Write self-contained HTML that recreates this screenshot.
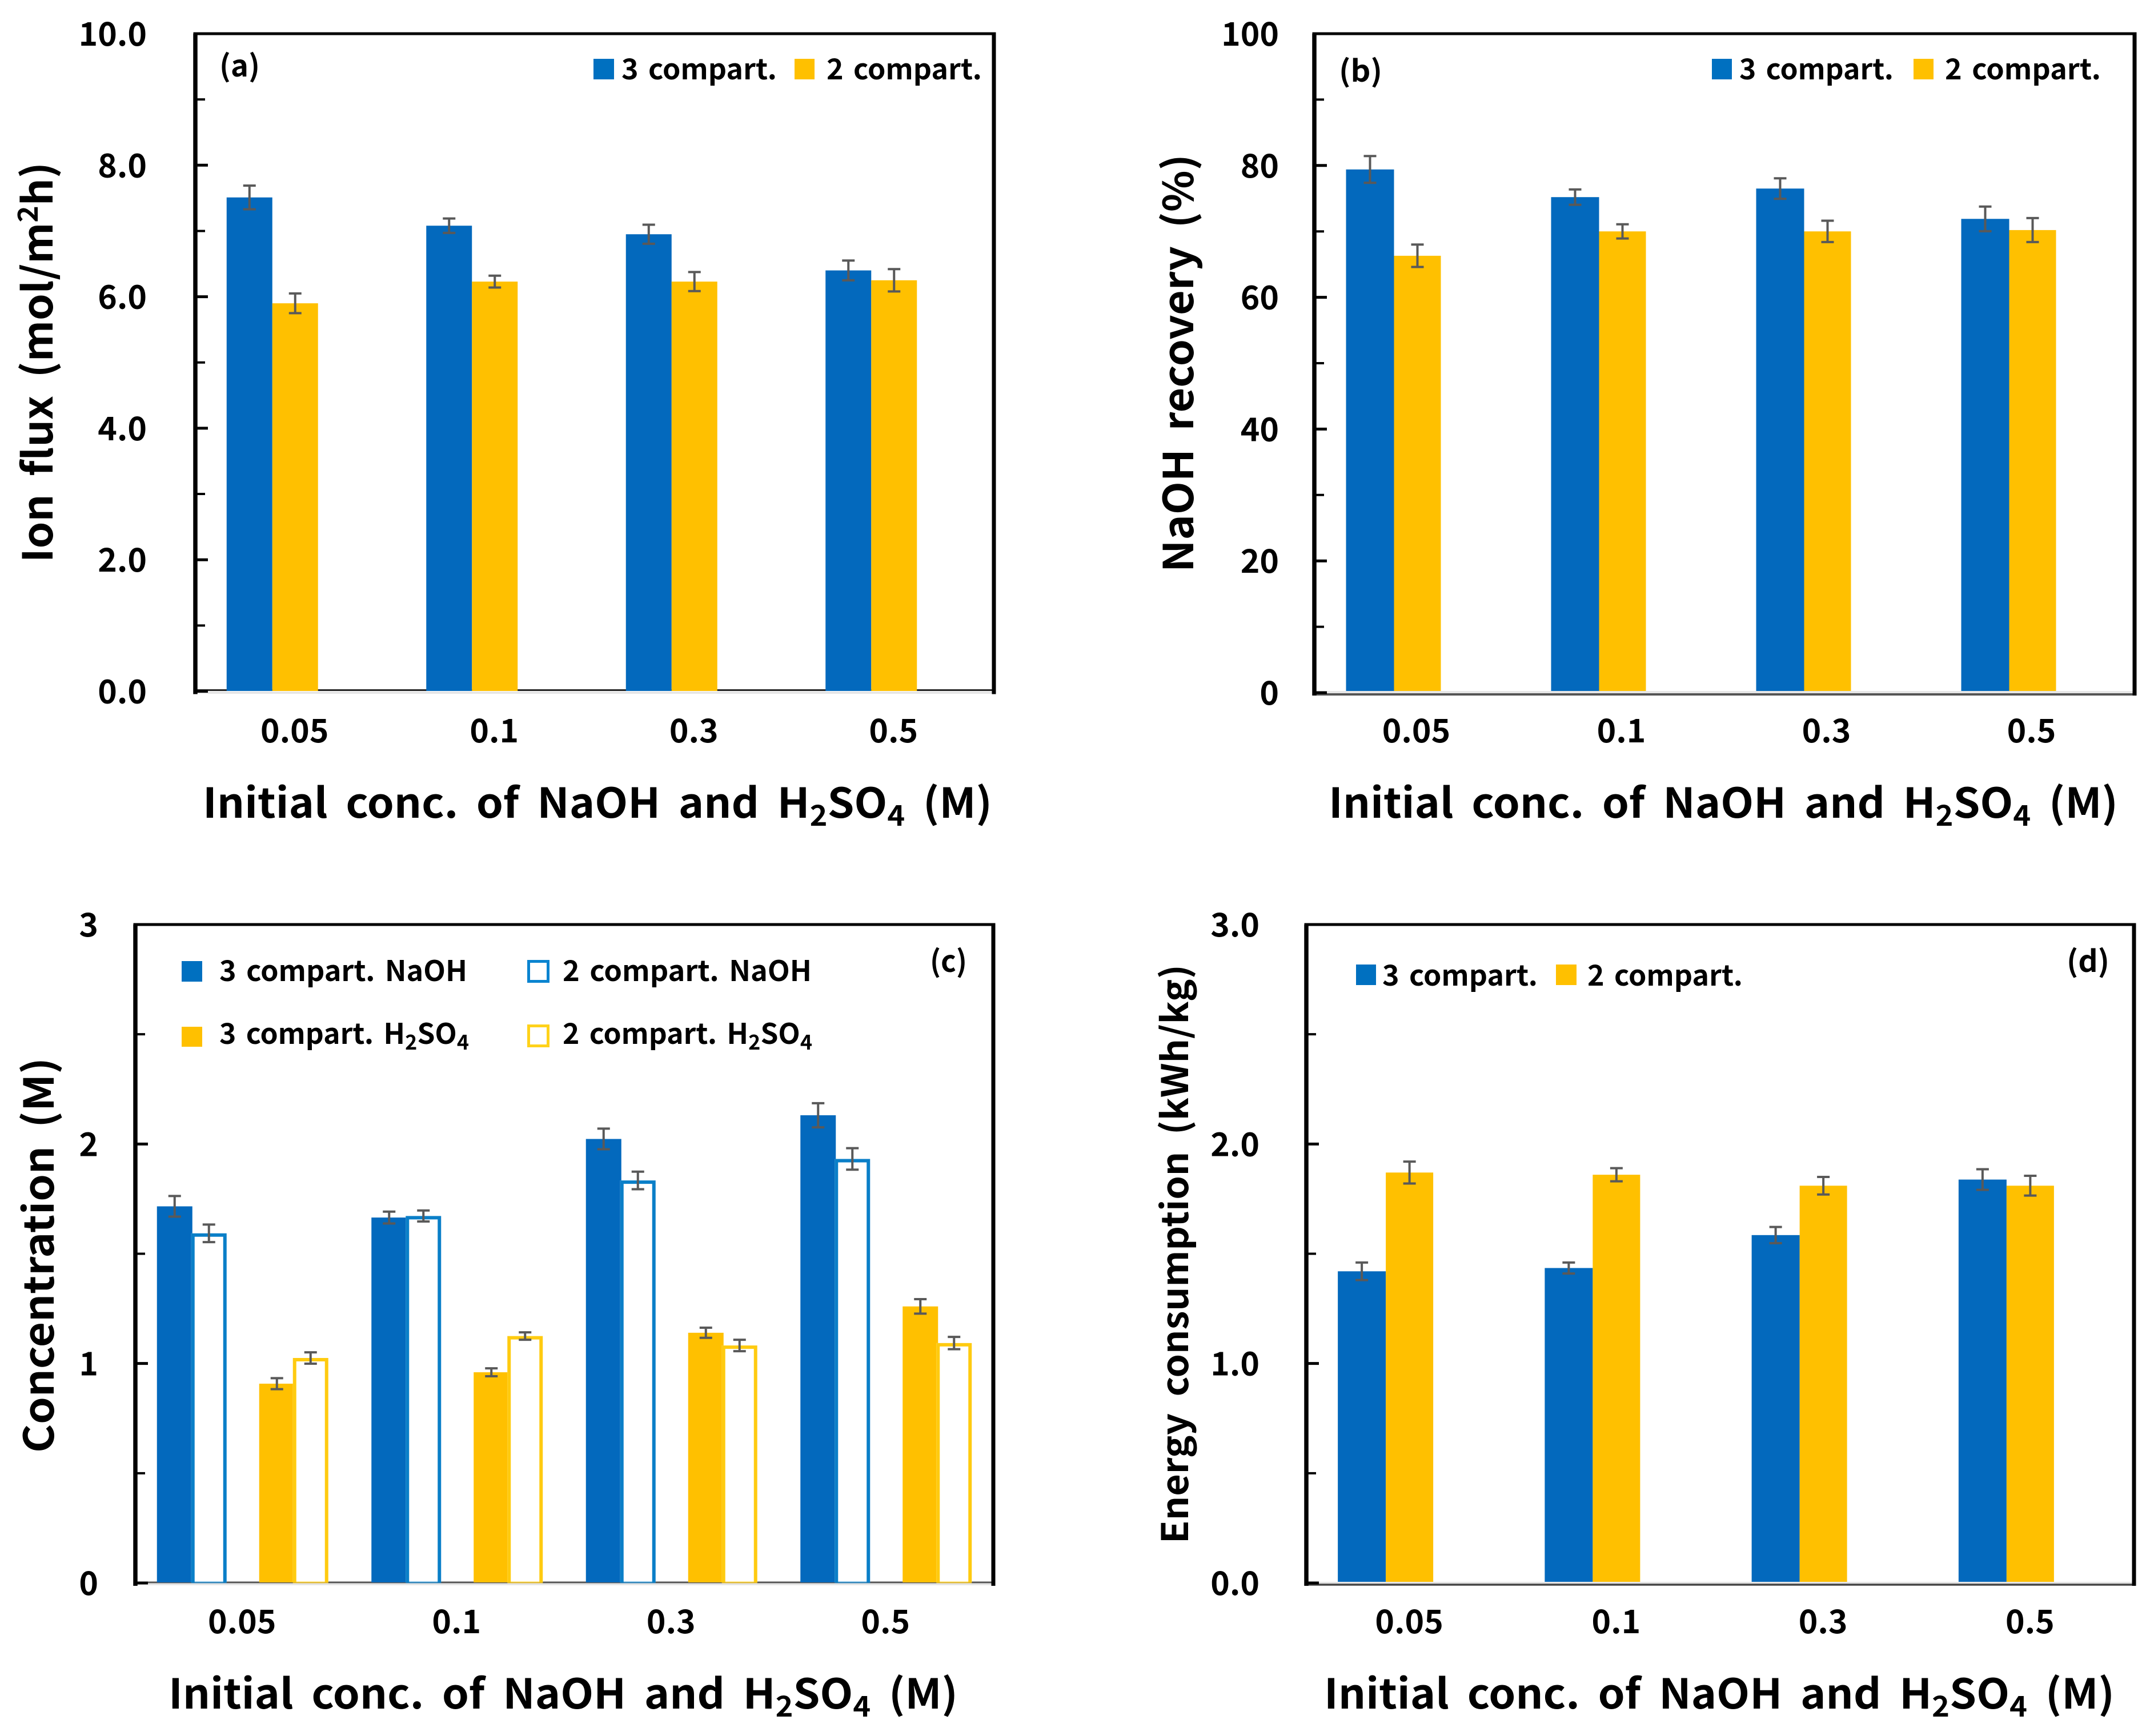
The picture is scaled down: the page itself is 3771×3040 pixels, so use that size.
<!DOCTYPE html>
<html lang="en">
<head>
<meta charset="utf-8">
<title>Ion flux, NaOH recovery, concentration and energy consumption</title>
<style>
  html, body { margin: 0; padding: 0; background: #fff; }
  svg { display: block; }
  text { font-family: "Noto Sans CJK KR", "Liberation Sans", sans-serif; font-weight: 700; fill: #000; }
  .tick { font-size: 57px; }
  .axis-title { font-size: 72px; word-spacing: 14px; }
  .legend { font-size: 50px; word-spacing: 6px; }
  .panel-label { font-size: 52px; font-weight: 700; }
</style>
</head>
<body>
<svg id="figure" xmlns="http://www.w3.org/2000/svg" width="3771" height="3040" viewBox="0 0 3771 3040">
  <rect x="0" y="0" width="3771" height="3040" fill="#ffffff"/>

  <g id="panel-a">
    <g id="panel-a-marks"></g>
    <text class="panel-label" x="384" y="134" textLength="71" lengthAdjust="spacingAndGlyphs">(a)</text>
    <rect x="1039" y="103" width="36" height="36" fill="#0070c0"/>
    <text class="legend" x="1088" y="139" textLength="272" lengthAdjust="spacingAndGlyphs">3 compart.</text>
    <rect x="1391" y="103" width="35" height="36" fill="#ffc000"/>
    <text class="legend" x="1447" y="139" textLength="272" lengthAdjust="spacingAndGlyphs">2 compart.</text>
    <text class="axis-title" x="355" y="1432" textLength="1382" lengthAdjust="spacingAndGlyphs">Initial conc. of NaOH and H<tspan font-size="50" dy="14">2</tspan><tspan dy="-14">SO</tspan><tspan font-size="50" dy="14">4</tspan><tspan dy="-14"> (M)</tspan></text>
    <text class="axis-title" transform="translate(92,985) rotate(-90)" x="0" y="0" textLength="701" lengthAdjust="spacingAndGlyphs">Ion flux (mol/m<tspan font-size="48" dy="-26">2</tspan><tspan dy="26">h)</tspan></text>
  </g>

  <g id="panel-b">
    <g id="panel-b-marks"></g>
    <text class="panel-label" x="2344" y="143" textLength="76" lengthAdjust="spacingAndGlyphs">(b)</text>
    <rect x="2997" y="103" width="35" height="36" fill="#0070c0"/>
    <text class="legend" x="3045" y="139" textLength="270" lengthAdjust="spacingAndGlyphs">3 compart.</text>
    <rect x="3350" y="103" width="35" height="36" fill="#ffc000"/>
    <text class="legend" x="3405" y="139" textLength="273" lengthAdjust="spacingAndGlyphs">2 compart.</text>
    <text class="axis-title" x="2326" y="1432" textLength="1382" lengthAdjust="spacingAndGlyphs">Initial conc. of NaOH and H<tspan font-size="50" dy="14">2</tspan><tspan dy="-14">SO</tspan><tspan font-size="50" dy="14">4</tspan><tspan dy="-14"> (M)</tspan></text>
    <text class="axis-title" transform="translate(2089,1002) rotate(-90)" x="0" y="0" textLength="732" lengthAdjust="spacingAndGlyphs">NaOH recovery (%)</text>
  </g>

  <g id="panel-c">
    <g id="panel-c-marks"></g>
    <text class="panel-label" x="1628" y="1702" textLength="65" lengthAdjust="spacingAndGlyphs">(c)</text>
    <rect x="318" y="1683" width="36" height="36" fill="#0070c0"/>
    <text class="legend" x="384" y="1718" textLength="434" lengthAdjust="spacingAndGlyphs">3 compart. NaOH</text>
    <rect x="925.5" y="1683.5" width="34" height="35" fill="#ffffff" stroke="#0a84d0" stroke-width="5"/>
    <text class="legend" x="985" y="1718" textLength="436" lengthAdjust="spacingAndGlyphs">2 compart. NaOH</text>
    <rect x="318" y="1798" width="36" height="35" fill="#ffc000"/>
    <text class="legend" x="384" y="1828" textLength="437" lengthAdjust="spacingAndGlyphs">3 compart. H<tspan font-size="36" dy="10">2</tspan><tspan dy="-10">SO</tspan><tspan font-size="36" dy="10">4</tspan></text>
    <rect x="925.5" y="1796.5" width="34" height="35" fill="#ffffff" stroke="#ffd21a" stroke-width="5"/>
    <text class="legend" x="985" y="1828" textLength="437" lengthAdjust="spacingAndGlyphs">2 compart. H<tspan font-size="36" dy="10">2</tspan><tspan dy="-10">SO</tspan><tspan font-size="36" dy="10">4</tspan></text>
    <text class="axis-title" x="295" y="2992" textLength="1382" lengthAdjust="spacingAndGlyphs">Initial conc. of NaOH and H<tspan font-size="50" dy="14">2</tspan><tspan dy="-14">SO</tspan><tspan font-size="50" dy="14">4</tspan><tspan dy="-14"> (M)</tspan></text>
    <text class="axis-title" transform="translate(94,2544) rotate(-90)" x="0" y="0" textLength="692" lengthAdjust="spacingAndGlyphs">Concentration (M)</text>
  </g>

  <g id="panel-d">
    <g id="panel-d-marks"></g>
    <text class="panel-label" x="3618" y="1702" textLength="75" lengthAdjust="spacingAndGlyphs">(d)</text>
    <rect x="2374" y="1689" width="35" height="36" fill="#0070c0"/>
    <text class="legend" x="2420" y="1726" textLength="272" lengthAdjust="spacingAndGlyphs">3 compart.</text>
    <rect x="2724" y="1689" width="36" height="36" fill="#ffc000"/>
    <text class="legend" x="2779" y="1726" textLength="272" lengthAdjust="spacingAndGlyphs">2 compart.</text>
    <text class="axis-title" x="2318" y="2992" textLength="1384" lengthAdjust="spacingAndGlyphs">Initial conc. of NaOH and H<tspan font-size="50" dy="14">2</tspan><tspan dy="-14">SO</tspan><tspan font-size="50" dy="14">4</tspan><tspan dy="-14"> (M)</tspan></text>
    <text class="axis-title" style="font-size:64px" transform="translate(2080,2703) rotate(-90)" x="0" y="0" textLength="1014" lengthAdjust="spacingAndGlyphs">Energy consumption (kWh/kg)</text>
  </g>
</svg>

<script>
const categories = ['0.05', '0.1', '0.3', '0.5'];

const fluxTickLabels = ['0.0', '2.0', '4.0', '6.0', '8.0', '10.0'];
const fluxThree = [7.51, 7.08, 6.95, 6.40];
const fluxThreeErr = [0.18, 0.11, 0.145, 0.15];
const fluxTwo = [5.90, 6.23, 6.23, 6.25];
const fluxTwoErr = [0.15, 0.09, 0.145, 0.17];

const recoveryTickLabels = ['0', '20', '40', '60', '80', '100'];
const recoveryThree = [79.4, 75.2, 76.5, 71.9];
const recoveryThreeErr = [2.03, 1.16, 1.55, 1.87];
const recoveryTwo = [66.3, 70.0, 70.0, 70.2];
const recoveryTwoErr = [1.7, 1.08, 1.62, 1.82];

const concTickLabels = ['0', '1', '2', '3'];
const concThreeNaoh = [1.716, 1.665, 2.023, 2.131];
const concThreeNaohErr = [0.047, 0.027, 0.047, 0.055];
const concTwoNaoh = [1.593, 1.672, 1.834, 1.932];
const concTwoNaohErr = [0.04, 0.025, 0.04, 0.049];
const concThreeAcid = [0.908, 0.96, 1.14, 1.26];
const concThreeAcidErr = [0.025, 0.018, 0.023, 0.033];
const concTwoAcid = [1.025, 1.125, 1.082, 1.093];
const concTwoAcidErr = [0.026, 0.017, 0.026, 0.028];

const energyTickLabels = ['0.0', '1.0', '2.0', '3.0'];
const energyThree = [1.42, 1.435, 1.585, 1.838];
const energyThreeErr = [0.04, 0.025, 0.037, 0.047];
const energyTwo = [1.87, 1.86, 1.81, 1.81];
const energyTwoErr = [0.05, 0.03, 0.04, 0.045];

const BLUE = '#0369bd';
const ORANGE = '#ffc000';
const HOLLOW_BLUE = '#0a7fc8';
const HOLLOW_ORANGE = '#ffcb10';
const SVG_NS = 'http://www.w3.org/2000/svg';

const panels = [
  { marks: 'panel-a-marks', left: 342, right: 1740, top: 59, zero: 1210.5, base: 1210, ticks: fluxTickLabels, max: 10,
    tickRight: 257, tickBaseline: 1300, baseLine: { y: 1208.5, w: 3, color: '#222222' }, band: { y: 1211, h: 4 },
    series: [
      { key: '3-compart', values: fluxThree, errors: fluxThreeErr, color: BLUE, from: -120, to: -40 },
      { key: '2-compart', values: fluxTwo, errors: fluxTwoErr, color: ORANGE, from: -40, to: 40 }
    ] },
  { marks: 'panel-b-marks', left: 2301, right: 3737, top: 59, zero: 1213, base: 1210, ticks: recoveryTickLabels, max: 100,
    tickRight: 2239, tickBaseline: 1300, baseLine: { y: 1216, w: 4, color: '#555555' }, band: { y: 1210, h: 4 },
    series: [
      { key: '3-compart', values: recoveryThree, errors: recoveryThreeErr, color: BLUE, from: -124, to: -40 },
      { key: '2-compart', values: recoveryTwo, errors: recoveryTwoErr, color: ORANGE, from: -40, to: 42 }
    ] },
  { marks: 'panel-c-marks', left: 237, right: 1739, top: 1619, zero: 2772, base: 2771, ticks: concTickLabels, max: 3,
    tickRight: 172, tickBaseline: 2860, baseLine: { y: 2771, w: 3, color: '#555555' }, band: { y: 2773, h: 3 },
    series: [
      { key: '3-compart-naoh', values: concThreeNaoh, errors: concThreeNaohErr, color: BLUE, from: -150, to: -88 },
      { key: '2-compart-naoh', values: concTwoNaoh, errors: concTwoNaohErr, color: HOLLOW_BLUE, from: -90, to: -28, hollow: true },
      { key: '3-compart-h2so4', values: concThreeAcid, errors: concThreeAcidErr, color: ORANGE, from: 29, to: 91 },
      { key: '2-compart-h2so4', values: concTwoAcid, errors: concTwoAcidErr, color: HOLLOW_ORANGE, from: 88, to: 150, hollow: true }
    ] },
  { marks: 'panel-d-marks', left: 2287, right: 3736, top: 1619, zero: 2772, base: 2770, ticks: energyTickLabels, max: 3,
    tickRight: 2205, tickBaseline: 2860, baseLine: { y: 2775, w: 3.5, color: '#444444' }, band: { y: 2770, h: 3 },
    series: [
      { key: '3-compart', values: energyThree, errors: energyThreeErr, color: BLUE, from: -126, to: -42 },
      { key: '2-compart', values: energyTwo, errors: energyTwoErr, color: ORANGE, from: -42, to: 41 }
    ] }
];

function make(tag, parent, attrs, text) {
  const node = document.createElementNS(SVG_NS, tag);
  for (const k in attrs) node.setAttribute(k, attrs[k]);
  if (text !== undefined) node.textContent = text;
  parent.appendChild(node);
  return node;
}

function yScale(p, v) {
  return p.zero - (v / p.max) * (p.zero - p.top);
}

function xCenter(p, i) {
  return p.left + (i + 0.5) * (p.right - p.left) / categories.length;
}

function drawPlotBase(p, g) {
  const band = make('rect', g, { x: p.left, y: p.band.y, width: p.right - p.left, height: p.band.h, fill: '#e6e6e6' });
  
  
  const line = make('line', g, { x1: p.left, x2: p.right, y1: p.baseLine.y, y2: p.baseLine.y, stroke: p.baseLine.color, 'stroke-width': p.baseLine.w });
  
  
}

function drawSeries(p, g) {
  p.series.forEach(function (s) {
    s.values.forEach(function (v, i) {
      const c = xCenter(p, i);
      const x0 = c + s.from;
      const x1 = c + s.to;
      const y = yScale(p, v);
      if (s.hollow) {
        const fillRect = make('rect', g, { x: x0, y: y, width: x1 - x0, height: p.base - y, fill: '#ffffff' });
        
        
        const outline = make('path', g, {
          d: 'M' + (x0 + 3) + ' ' + p.base + 'V' + (y + 3) + 'H' + (x1 - 3) + 'V' + p.base,
          fill: 'none', stroke: s.color, 'stroke-width': 6
        });
        
        
        const foot = make('line', g, { x1: x0, x2: x1, y1: p.base, y2: p.base, stroke: s.color, 'stroke-width': 3, opacity: 0.7 });
        
        
      } else {
        const bar = make('rect', g, { x: x0, y: y, width: x1 - x0, height: p.base - y, fill: s.color });
        
        
      }
    });
  });
  p.series.forEach(function (s) {
    s.values.forEach(function (v, i) {
      const ex = xCenter(p, i) + (s.from + s.to) / 2;
      const hi = yScale(p, v + s.errors[i]);
      const lo = yScale(p, v - s.errors[i]);
      const err = make('path', g, {
        d: 'M' + (ex - 11) + ' ' + hi + 'H' + (ex + 11) + 'M' + ex + ' ' + hi + 'V' + lo + 'M' + (ex - 11) + ' ' + lo + 'H' + (ex + 11),
        fill: 'none', stroke: '#595959', 'stroke-width': 4
      });
      
      
    });
  });
}

function drawFrame(p, g) {
  const frame = make('path', g, {
    d: 'M' + p.left + ' ' + (p.zero + 5) + 'V' + p.top,
    fill: 'none', stroke: '#000', 'stroke-width': 7.5
  });
  
  
  const top = make('line', g, { x1: p.left - 3.5, x2: p.right + 3.5, y1: p.top, y2: p.top, stroke: '#000', 'stroke-width': 5 });
  
  
  const right = make('line', g, { x1: p.right, x2: p.right, y1: p.top, y2: p.zero + 5, stroke: '#000', 'stroke-width': 7 });
  
  

  const values = p.ticks.map(Number);
  values.forEach(function (v, i) {
    const y = yScale(p, v);
    const major = make('line', g, { x1: p.left, x2: p.left + 22, y1: y, y2: y, stroke: '#000', 'stroke-width': 5 });
    
    
    const label = make('text', g, { x: p.tickRight, y: y + 21, 'text-anchor': 'end', class: 'tick' }, p.ticks[i]);
    
    
    if (i < values.length - 1) {
      const my = yScale(p, (v + values[i + 1]) / 2);
      const minor = make('line', g, { x1: p.left, x2: p.left + 17, y1: my, y2: my, stroke: '#000', 'stroke-width': 4 });
      
      
    }
  });

  categories.forEach(function (cat, i) {
    const label = make('text', g, { x: xCenter(p, i) - 1, y: p.tickBaseline, 'text-anchor': 'middle', class: 'tick' }, cat);
    
    
  });
}

panels.forEach(function (p) {
  const g = document.getElementById(p.marks);
  drawPlotBase(p, g);
  drawSeries(p, g);
  drawFrame(p, g);
});
</script>
</body>
</html>
